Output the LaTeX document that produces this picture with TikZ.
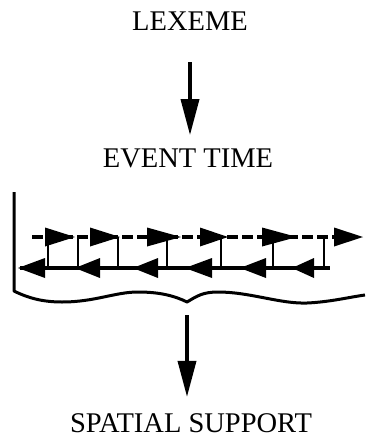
\documentclass[tikz,border=0pt]{standalone}
\usepackage{fontspec}
\setmainfont{Liberation Serif}
\usetikzlibrary{arrows.meta}

\begin{document}
\begin{tikzpicture}[
      x=1pt, y=-1pt,
      every node/.style={font=\fontsize{28.5}{30}\selectfont, inner sep=0pt, anchor=base},
      bigarrow/.style={-{Triangle[length=36pt,width=18pt]}, line width=3.6pt},
      upper/.style={line width=3.2pt, dash pattern=on 11pt off 4pt},
      lower/.style={line width=3.2pt},
      rung/.style={line width=1.8pt},
      brace/.style={line width=3pt, line join=round}
    ]
    \useasboundingbox (0,0) rectangle (365,439);

    \node (lexeme) at (190,30) {LEXEME};
    \node (evtime) at (188,167) {EVENT TIME};
    \node (spatial) at (191,432) {SPATIAL SUPPORT};
    \coordinate (btip) at (187,302);

    % time line: forward dashed, backward solid
    \draw[upper] (32,237) -- (335,237);
    \draw[lower] (20,268) -- (330,268);
    \foreach \x in {48,78,118,167,221,273,324}
      \draw[rung] (\x,237) -- (\x,268);
    \foreach \b/\t in {45/75,90/120,147/181,200/228,262/297,334/363}
      \fill (\b,227.5) -- (\t,237) -- (\b,246.5) -- cycle;
    \foreach \t/\b in {18/45,75/100,133/158,185/212,240/266,292/314}
      \fill (\b,258) -- (\t,268) -- (\b,278) -- cycle;

    % bracket
    \draw[brace] (14,192) -- (14,291)
      .. controls (30,299) and (45,302) .. (62,302)
      .. controls (95,302) and (115,292) .. (138,292)
      .. controls (160,292) and (175,296) .. (btip)
      .. controls (197,296) and (203,292) .. (218,292)
      .. controls (250,292) and (280,304) .. (307,303)
      .. controls (330,302) and (350,297) .. (365,295);

    \draw[bigarrow, shorten <=32pt, shorten >=13pt] (lexeme.south) -- (lexeme.south |- evtime.north);
    \draw[bigarrow, shorten <=13pt, shorten >=16pt] (btip) -- (btip |- spatial.north);
\end{tikzpicture}
\end{document}
